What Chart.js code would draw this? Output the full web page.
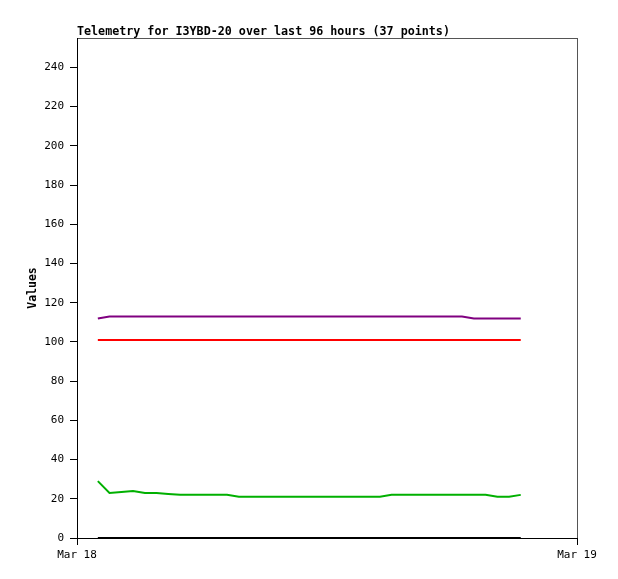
<!DOCTYPE html>
<html>
<head>
<meta charset="utf-8">
<script src="https://cdn.jsdelivr.net/npm/chart.js@4.4.0/dist/chart.umd.min.js"></script>
<style>
  html, body { margin: 0; padding: 0; background: #fff; }
  canvas { display: block; }
</style>
</head>
<body>
<canvas id="chart" width="618" height="579"></canvas>
<script>
// Hours after Mar 18 00:00 for each sample
const sampleHours = [1.0, 1.56, 2.13, 2.69, 3.26, 3.82, 4.38, 4.95, 5.51, 6.08, 6.64, 7.2, 7.77,
    8.33, 8.9, 9.46, 10.02, 10.59, 11.15, 11.72, 12.28, 12.84, 13.41, 13.97, 14.54, 15.1,
    15.66, 16.23, 16.79, 17.36, 17.92, 18.48, 19.05, 19.61, 20.18, 20.74, 21.3];

// Telemetry series
const purpleValues = [112, 113, 113, 113, 113, 113, 113, 113, 113, 113, 113, 113, 113,
    113, 113, 113, 113, 113, 113, 113, 113, 113, 113, 113, 113, 113,
    113, 113, 113, 113, 113, 113, 112, 112, 112, 112, 112];
const redValues = [101, 101, 101, 101, 101, 101, 101, 101, 101, 101, 101, 101, 101,
    101, 101, 101, 101, 101, 101, 101, 101, 101, 101, 101, 101, 101,
    101, 101, 101, 101, 101, 101, 101, 101, 101, 101, 101];
const greenValues = [29, 23, 23.5, 24, 23, 23, 22.5, 22, 22, 22, 22, 22, 21,
    21, 21, 21, 21, 21, 21, 21, 21, 21, 21, 21, 21, 22,
    22, 22, 22, 22, 22, 22, 22, 22, 21, 21, 22];
const blackValues = [0, 0, 0, 0, 0, 0, 0, 0, 0, 0, 0, 0, 0,
    0, 0, 0, 0, 0, 0, 0, 0, 0, 0, 0, 0, 0,
    0, 0, 0, 0, 0, 0, 0, 0, 0, 0, 0];

// Axis ticks
const yTickValues = [0, 20, 40, 60, 80, 100, 120, 140, 160, 180, 200, 220, 240];
const xTickHours = [0, 24];
const xTickLabels = ['Mar 18', 'Mar 19'];

const chartTitle = 'Telemetry for I3YBD-20 over last 96 hours (37 points)';
const monoFont = '"DejaVu Sans Mono", "Liberation Mono", monospace';

function toPoints(values) {
    return values.map((v, i) => ({ x: sampleHours[i], y: v }));
}

function lineSet(values, color) {
    return {
        data: toPoints(values),
        borderColor: color,
        borderWidth: 2,
        pointRadius: 0,
        tension: 0,
        fill: false,
        clip: 4
    };
}

// Gray frame round the plot, left/bottom axes are drawn black over it
const framePlugin = {
    id: 'frame',
    beforeDraw(chart) {
        const { ctx, chartArea: a } = chart;
        ctx.save();
        ctx.strokeStyle = '#555';
        ctx.lineWidth = 1;
        ctx.strokeRect(a.left + 0.5, a.top + 0.5, a.right - a.left, a.bottom - a.top);
        ctx.restore();
    },
    afterDraw(chart) {
        const { ctx, chartArea: a } = chart;
        ctx.save();
        ctx.fillStyle = '#000';
        ctx.font = 'bold 11.7px ' + monoFont;
        ctx.textBaseline = 'middle';
        ctx.textAlign = 'left';
        ctx.fillText(chartTitle, a.left, 31.5);
        ctx.restore();
    }
};

new Chart(document.getElementById('chart'), {
    type: 'line',
    data: {
        datasets: [
            lineSet(blackValues, '#000000'),
            lineSet(greenValues, '#00b000'),
            lineSet(redValues, '#ff0000'),
            lineSet(purpleValues, '#800080')
        ]
    },
    options: {
        responsive: false,
        animation: false,
        layout: { padding: { top: 38, right: 41, left: 0, bottom: 0 } },
        plugins: {
            legend: { display: false },
            tooltip: { enabled: false },
            title: { display: false }
        },
        scales: {
            x: {
                type: 'linear',
                min: 0,
                max: 24,
                afterBuildTicks: scale => { scale.ticks = xTickHours.map(v => ({ value: v })); },
                afterFit: scale => { scale.height = 41; },
                grid: { drawOnChartArea: false, drawTicks: true, tickLength: 7, color: '#000' },
                border: { display: true, color: '#000', width: 1 },
                ticks: {
                    color: '#000',
                    padding: 4,
                    maxRotation: 0,
                    font: { family: monoFont, size: 11 },
                    callback: (v) => xTickLabels[xTickHours.indexOf(v)]
                }
            },
            y: {
                min: 0,
                max: 255,
                afterBuildTicks: scale => { scale.ticks = yTickValues.map(v => ({ value: v })); },
                afterFit: scale => { scale.width = 77; },
                grid: { drawOnChartArea: false, drawTicks: true, tickLength: 7, color: '#000' },
                border: { display: true, color: '#000', width: 1 },
                ticks: {
                    color: '#000',
                    padding: 6,
                    font: { family: monoFont, size: 11 }
                },
                title: {
                    display: true,
                    text: 'Values',
                    color: '#000',
                    padding: { top: 26, bottom: 0 },
                    font: { family: monoFont, size: 11.5, weight: 'bold' }
                }
            }
        }
    },
    plugins: [framePlugin]
});
</script>
</body>
</html>
